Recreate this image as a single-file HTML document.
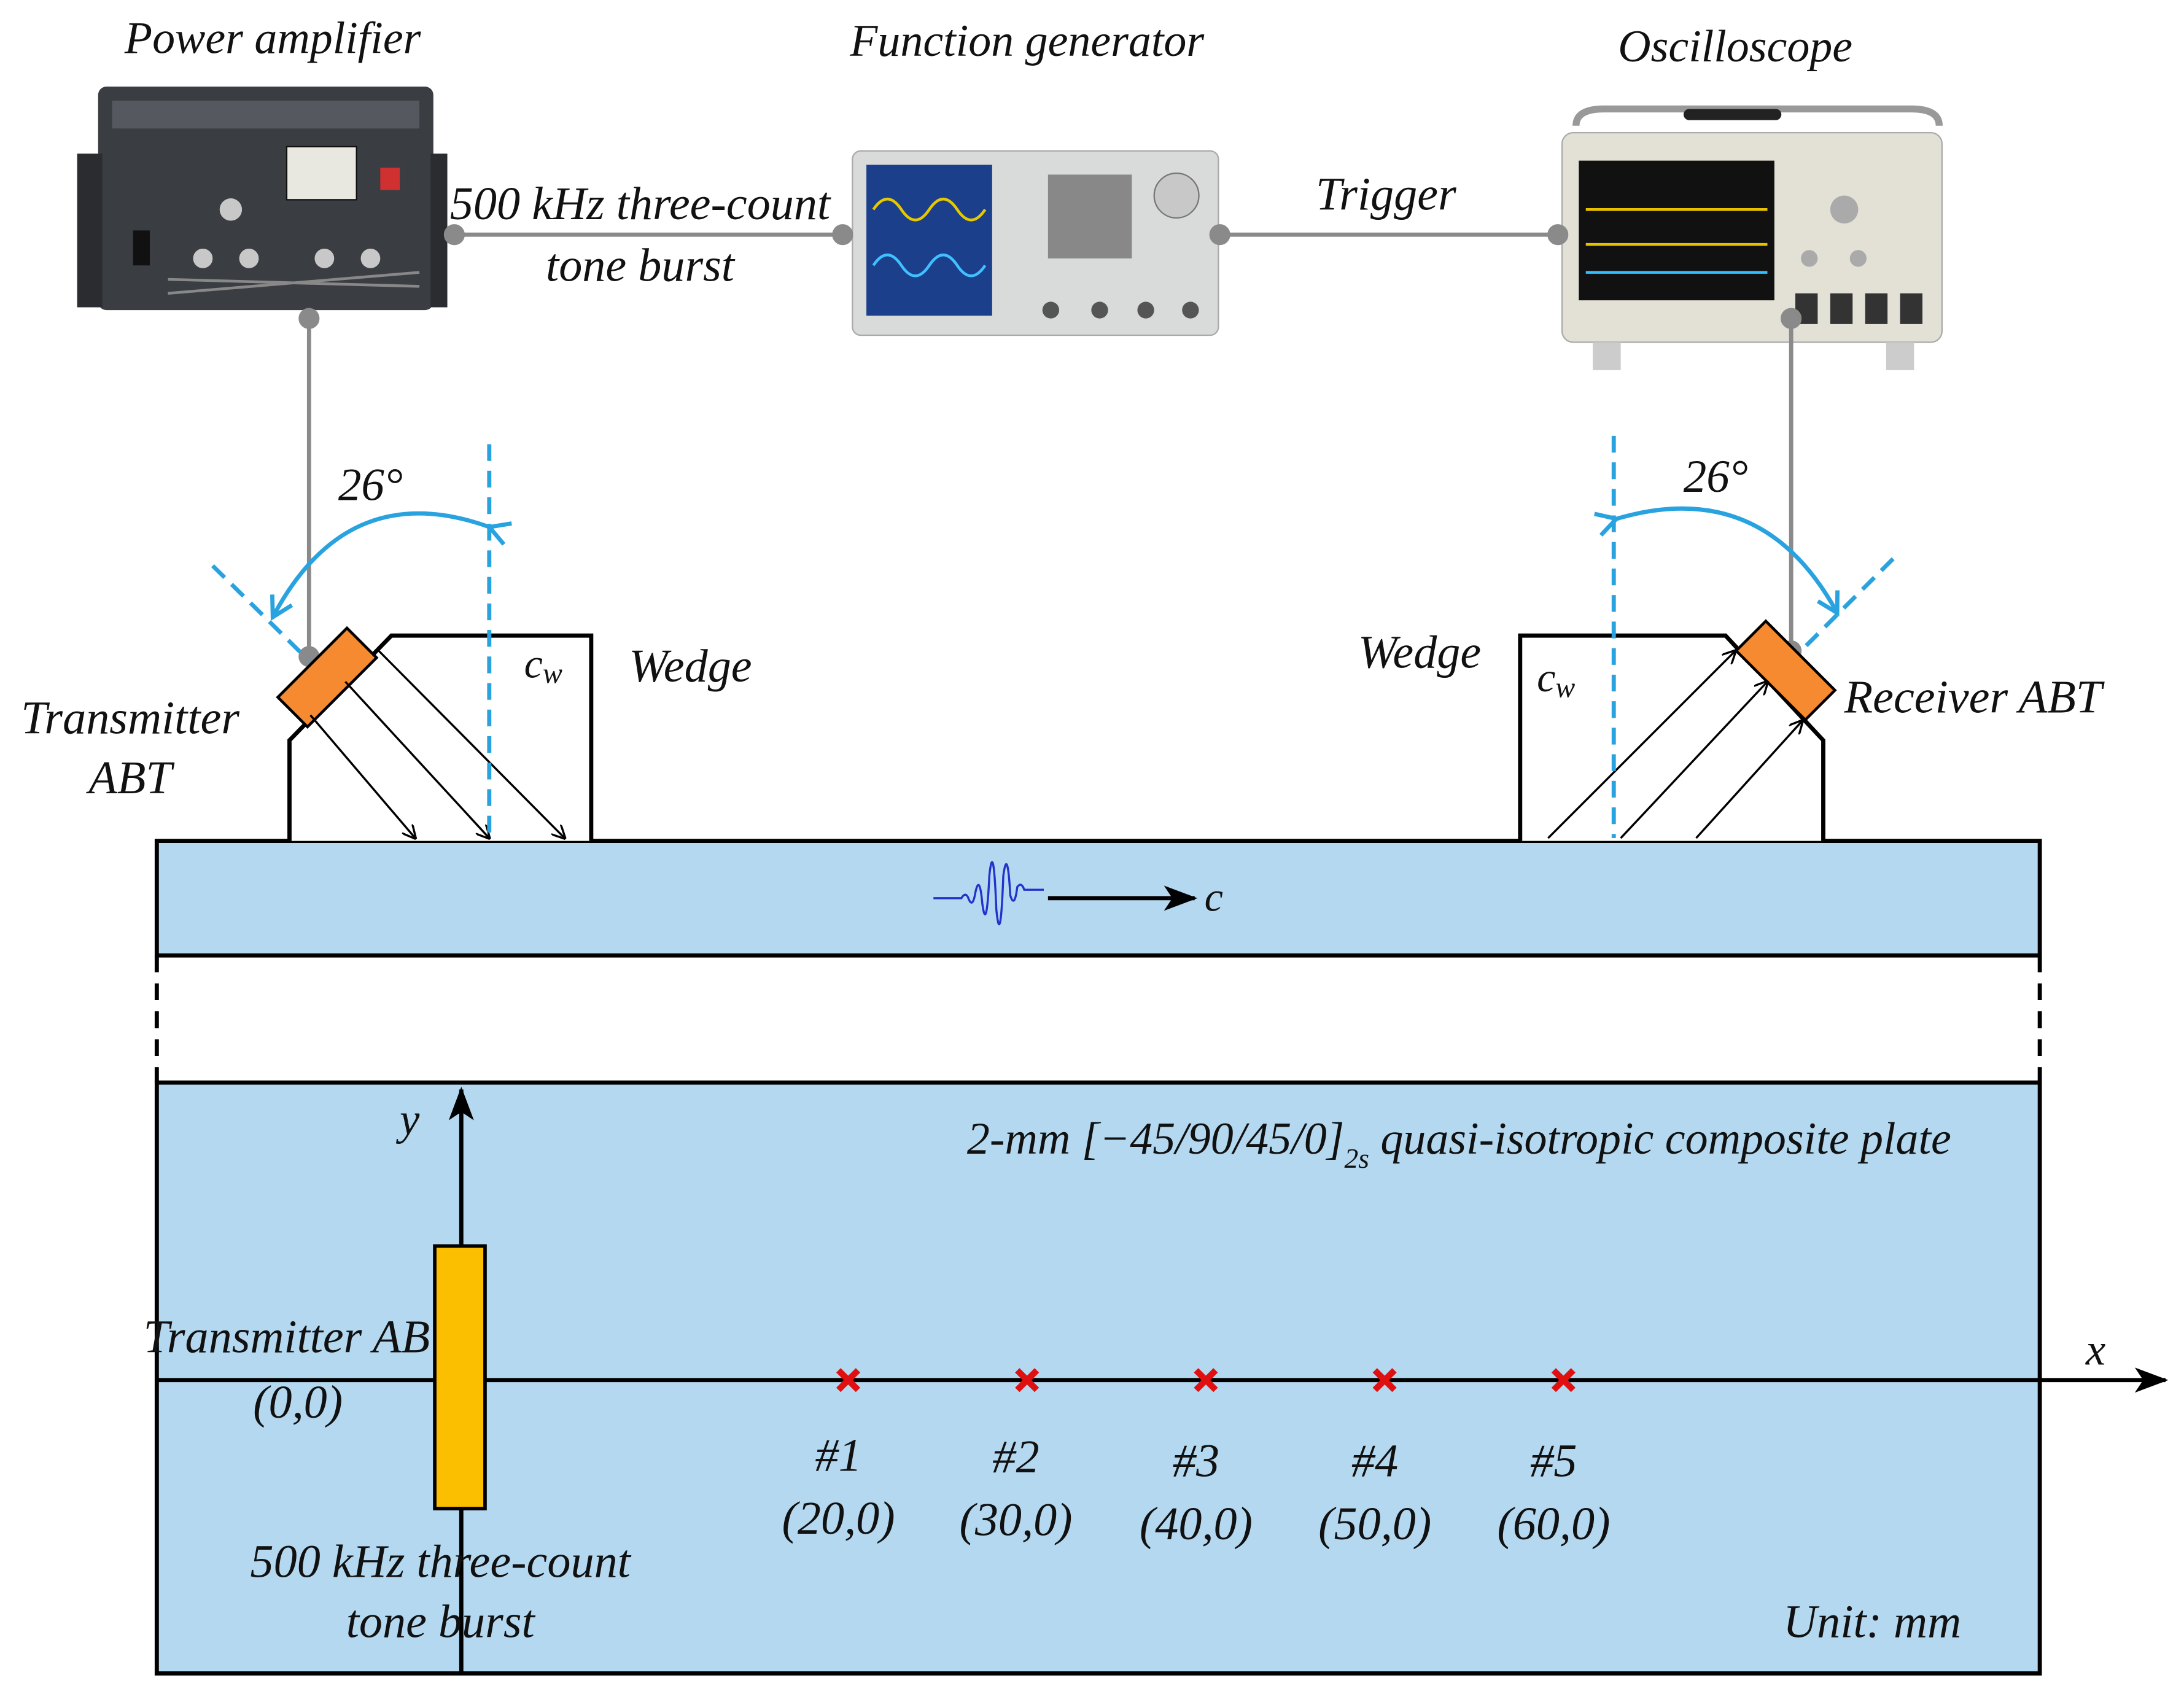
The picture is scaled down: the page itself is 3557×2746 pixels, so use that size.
<!DOCTYPE html>
<html><head><meta charset="utf-8">
<style>
html,body{margin:0;padding:0;background:#fff;}
svg{display:block;}
text{font-family:"Liberation Serif",serif;font-style:italic;fill:#111;}
</style></head>
<body>
<svg width="3557" height="2746" viewBox="0 0 1563 1207" xmlns="http://www.w3.org/2000/svg">
<defs>
<marker id="ab" markerWidth="10" markerHeight="10" refX="9" refY="5" orient="auto" markerUnits="userSpaceOnUse"><path d="M0,0 L10,5 L0,10" fill="none" stroke="#000" stroke-width="1.5"/></marker>
<marker id="abig" markerWidth="24" markerHeight="18" refX="22" refY="9" orient="auto" markerUnits="userSpaceOnUse"><path d="M0,0 L24,9 L0,18 L6,9z" fill="#000"/></marker>
<marker id="bl" markerWidth="20" markerHeight="20" refX="14" refY="10" orient="auto" markerUnits="userSpaceOnUse"><path d="M2,2 L16,10 L2,18" fill="none" stroke="#29a3e0" stroke-width="3"/></marker>
</defs>

<g>
<rect x="70" y="62" width="240" height="160" rx="6" fill="#3a3d42"/>
<rect x="55" y="110" width="18" height="110" fill="#2a2c30"/>
<rect x="308" y="110" width="12" height="110" fill="#2a2c30"/>
<rect x="80" y="72" width="220" height="20" fill="#55595f"/>
<rect x="205" y="105" width="50" height="38" fill="#e8e8e0" stroke="#111"/>
<rect x="272" y="120" width="14" height="16" fill="#d03030"/>
<g fill="#c8c8c8"><circle cx="145" cy="185" r="7"/><circle cx="178" cy="185" r="7"/><circle cx="232" cy="185" r="7"/><circle cx="265" cy="185" r="7"/><circle cx="165" cy="150" r="8"/></g>
<rect x="95" y="165" width="12" height="25" fill="#111"/>
<g stroke="#888" stroke-width="2"><path d="M120,210 L300,195"/><path d="M120,200 L300,205"/></g>
</g>
<g>
<rect x="610" y="108" width="262" height="132" rx="6" fill="#d9dada" stroke="#aaa"/>
<rect x="620" y="118" width="90" height="108" fill="#1b3f8a"/>
<path d="M625,150 q10,-15 20,0 t20,0 t20,0 t20,0" stroke="#e6c800" fill="none" stroke-width="2"/>
<path d="M625,190 q10,-15 20,0 t20,0 t20,0 t20,0" stroke="#40c0ff" fill="none" stroke-width="2"/>
<circle cx="842" cy="140" r="16" fill="#c8c8c8" stroke="#777"/>
<g fill="#888"><rect x="750" y="125" width="60" height="60"/></g>
<g fill="#555"><circle cx="752" cy="222" r="6"/><circle cx="787" cy="222" r="6"/><circle cx="820" cy="222" r="6"/><circle cx="852" cy="222" r="6"/></g>
</g>
<g>
<path d="M1128,90 q0,-12 20,-12 h220 q20,0 20,12" fill="none" stroke="#999" stroke-width="5"/>
<rect x="1205" y="78" width="70" height="8" rx="4" fill="#222"/>
<rect x="1118" y="95" width="272" height="150" rx="8" fill="#e3e1d6" stroke="#aaa"/>
<rect x="1130" y="115" width="140" height="100" fill="#111"/>
<path d="M1135,150 h130 M1135,175 h130" stroke="#e8c000" stroke-width="2"/>
<path d="M1135,195 h130" stroke="#30c0ff" stroke-width="2"/>
<g fill="#333"><rect x="1285" y="210" width="16" height="22"/><rect x="1310" y="210" width="16" height="22"/><rect x="1335" y="210" width="16" height="22"/><rect x="1360" y="210" width="16" height="22"/></g>
<g fill="#aaa"><circle cx="1320" cy="150" r="10"/><circle cx="1295" cy="185" r="6"/><circle cx="1330" cy="185" r="6"/></g>
<rect x="1140" y="245" width="20" height="20" fill="#ccc"/><rect x="1350" y="245" width="20" height="20" fill="#ccc"/>
</g>

<text x="195" y="38" font-size="32.5" text-anchor="middle">Power amplifier</text>
<text x="735" y="40" font-size="32.5" text-anchor="middle">Function generator</text>
<text x="1242" y="44" font-size="32.5" text-anchor="middle">Oscilloscope</text>

<g stroke="#8a8a8a" stroke-width="3" fill="#8a8a8a">
<line x1="325" y1="168" x2="603" y2="168"/><circle cx="325" cy="168" r="6"/><circle cx="603" cy="168" r="6"/>
<line x1="873" y1="168" x2="1115" y2="168"/><circle cx="873" cy="168" r="6"/><circle cx="1115" cy="168" r="6"/>
<line x1="221" y1="228" x2="221" y2="470"/><circle cx="221" cy="228" r="6"/><circle cx="221" cy="470" r="6"/>
<line x1="1282" y1="228" x2="1282" y2="466"/><circle cx="1282" cy="228" r="6"/><circle cx="1282" cy="466" r="6"/>
</g>
<text x="458" y="157" font-size="33.5" text-anchor="middle">500 kHz three-count</text>
<text x="458" y="201" font-size="33.5" text-anchor="middle">tone burst</text>
<text x="992" y="150" font-size="33.5" text-anchor="middle">Trigger</text>

<rect x="112" y="602" width="1348" height="82" fill="#b4d8f0" stroke="#000" stroke-width="3"/>
<path d="M207,602 V530 L280,455 H423 V602" fill="#fff" stroke="#000" stroke-width="3"/>
<path d="M1088,602 V455 H1235 L1305,530 V602" fill="#fff" stroke="#000" stroke-width="3"/>
<rect x="199" y="470" width="70" height="30" fill="#f58a30" stroke="#000" stroke-width="2" transform="rotate(-45 234 485)"/>
<rect x="1243" y="465" width="70" height="30" fill="#f58a30" stroke="#000" stroke-width="2" transform="rotate(45 1278 480)"/>
<g stroke="#000" stroke-width="1.5" marker-end="url(#ab)">
<line x1="222" y1="512" x2="297" y2="600"/>
<line x1="247" y1="488" x2="350" y2="600"/>
<line x1="270" y1="465" x2="404" y2="600"/>
<line x1="1108" y1="600" x2="1242" y2="466"/>
<line x1="1160" y1="600" x2="1265" y2="488"/>
<line x1="1214" y1="600" x2="1290" y2="516"/>
</g>
<g stroke="#29a3e0" stroke-width="3" stroke-dasharray="12,7" fill="none">
<line x1="350" y1="318" x2="350" y2="602"/>
<line x1="152" y1="405" x2="220" y2="472"/>
<line x1="1155" y1="312" x2="1155" y2="600"/>
<line x1="1355" y1="400" x2="1290" y2="465"/>
</g>
<path d="M352,378 Q250,340 196,440" fill="none" stroke="#29a3e0" stroke-width="3" marker-end="url(#bl)" marker-start="url(#bl)"/>
<path d="M1155,372 Q1260,340 1314,437" fill="none" stroke="#29a3e0" stroke-width="3" marker-end="url(#bl)" marker-start="url(#bl)"/>
<text x="265" y="358" font-size="33" text-anchor="middle">26°</text>
<text x="1228" y="352" font-size="33" text-anchor="middle">26°</text>
<text x="375" y="485" font-size="30">c<tspan font-size="21" dy="4">w</tspan></text>
<text x="1100" y="495" font-size="30">c<tspan font-size="21" dy="4">w</tspan></text>
<text x="450" y="488" font-size="33.5">Wedge</text>
<text x="972" y="478" font-size="33.5">Wedge</text>
<text x="93" y="525" font-size="33.5" text-anchor="middle">Transmitter</text>
<text x="93" y="568" font-size="33.5" text-anchor="middle">ABT</text>
<text x="1320" y="510" font-size="33.5">Receiver ABT</text>
<path d="M668,643 h20 q3,-5 5,0 q3,8 5,-4 q3,-14 5,8 q3,22 5,-20 q3,-28 5,24 q3,30 5,-24 q3,-22 5,14 q3,10 5,-6 q3,-4 5,2 h14" fill="none" stroke="#2233cc" stroke-width="1.5"/>
<line x1="750" y1="643" x2="855" y2="643" stroke="#000" stroke-width="3" marker-end="url(#abig)"/>
<text x="862" y="652" font-size="30">c</text>

<g stroke="#000" stroke-width="3" stroke-dasharray="12,8">
<line x1="112" y1="684" x2="112" y2="775"/><line x1="1460" y1="684" x2="1460" y2="775"/>
</g>

<rect x="112" y="775" width="1348" height="423" fill="#b4d8f0" stroke="#000" stroke-width="3"/>
<line x1="112" y1="988" x2="1550" y2="988" stroke="#000" stroke-width="3" marker-end="url(#abig)"/>
<line x1="330" y1="1198" x2="330" y2="780" stroke="#000" stroke-width="3" marker-end="url(#abig)"/>
<rect x="311" y="892" width="36" height="188" fill="#fbbf00" stroke="#000" stroke-width="2.5"/>
<text x="293" y="812" font-size="32" text-anchor="middle">y</text>
<text x="1500" y="977" font-size="32" text-anchor="middle">x</text>
<text x="692" y="826" font-size="32.5">2-mm [−45/90/45/0]<tspan font-size="20" dy="10">2s</tspan><tspan dy="-10"> quasi-isotropic composite plate</tspan></text>
<text x="205" y="968" font-size="33.5" text-anchor="middle">Transmitter AB</text>
<text x="213" y="1015" font-size="33.5" text-anchor="middle">(0,0)</text>
<text x="315" y="1129" font-size="33.5" text-anchor="middle">500 kHz three-count</text>
<text x="315" y="1172" font-size="33.5" text-anchor="middle">tone burst</text>
<text x="1340" y="1172" font-size="33.5" text-anchor="middle">Unit: mm</text>
<g stroke="#e01010" stroke-width="4.5">
<path d="M600,981 l14,14 M614,981 l-14,14"/>
<path d="M728,981 l14,14 M742,981 l-14,14"/>
<path d="M856,981 l14,14 M870,981 l-14,14"/>
<path d="M984,981 l14,14 M998,981 l-14,14"/>
<path d="M1112,981 l14,14 M1126,981 l-14,14"/>
</g>
<g font-size="33.5" text-anchor="middle">
<text x="600" y="1053">#1</text><text x="600" y="1098">(20,0)</text>
<text x="727" y="1054">#2</text><text x="727" y="1099">(30,0)</text>
<text x="856" y="1057">#3</text><text x="856" y="1102">(40,0)</text>
<text x="984" y="1057">#4</text><text x="984" y="1102">(50,0)</text>
<text x="1112" y="1057">#5</text><text x="1112" y="1102">(60,0)</text>
</g>
</svg>
</body></html>
